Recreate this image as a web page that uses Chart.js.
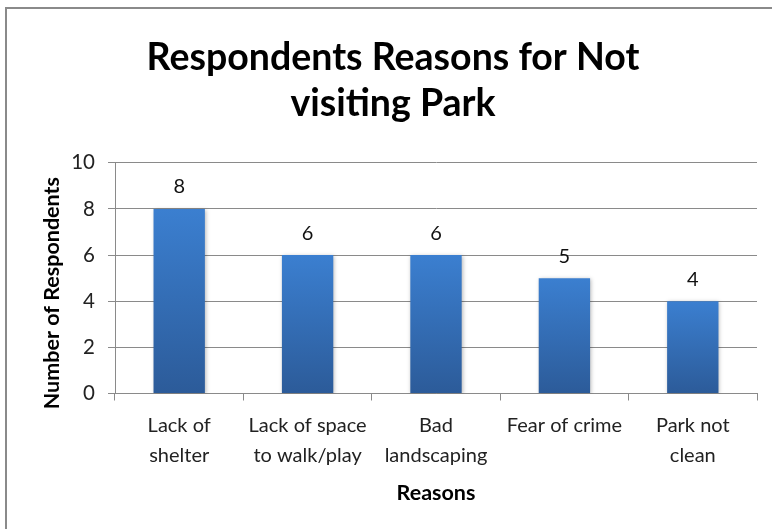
<!DOCTYPE html>
<html>
<head>
<meta charset="utf-8">
<script src="https://cdn.jsdelivr.net/npm/chart.js@4.4.0/dist/chart.umd.min.js"></script>
<style>
  html, body { margin: 0; padding: 0; background: #fff; }
  #wrap { width: 772px; height: 529px; }
</style>
</head>
<body>
<div id="wrap"><canvas id="chart" width="772" height="529"></canvas></div>
<script>
const reasons = [
    ['Lack of', 'shelter'],
    ['Lack of space', 'to walk/play'],
    ['Bad', 'landscaping'],
    ['Fear of crime'],
    ['Park not', 'clean']
];
const respondents = [8, 6, 6, 5, 4];
const yTicks = [0, 2, 4, 6, 8, 10];
const yTitle = 'Number of Respondents';

const FONT = 'Lato, "Open Sans", sans-serif';

// grey frame around the whole chart
const framePlugin = {
    id: 'frame',
    beforeDraw(chart) {
        const ctx = chart.ctx;
        ctx.save();
        ctx.fillStyle = '#fff';
        ctx.fillRect(0, 0, chart.width, chart.height);
        ctx.strokeStyle = '#8a8a8a';
        ctx.lineWidth = 2;
        ctx.strokeRect(6, 8, chart.width + 20, chart.height + 20);
        ctx.restore();
    }
};

// y axis title, sitting a little below the middle of the axis
const yTitlePlugin = {
    id: 'yTitle',
    afterDraw(chart) {
        const ctx = chart.ctx;
        const area = chart.chartArea;
        ctx.save();
        ctx.translate(52, (area.top + area.bottom) / 2 + 15);
        ctx.rotate(-Math.PI / 2);
        ctx.font = 'bold 21.5px ' + FONT;
        ctx.fillStyle = '#000';
        ctx.textAlign = 'center';
        ctx.textBaseline = 'middle';
        ctx.fillText(yTitle, 0, 0);
        ctx.restore();
    }
};

// soft shadow behind the bars
const shadowPlugin = {
    id: 'barShadow',
    beforeDatasetsDraw(chart) {
        const ctx = chart.ctx;
        ctx.save();
        ctx.shadowColor = 'rgba(0,0,0,0.28)';
        ctx.shadowBlur = 4;
        ctx.shadowOffsetX = 1;
        ctx.shadowOffsetY = 1;
    },
    afterDatasetsDraw(chart) {
        chart.ctx.restore();
    }
};

// value written above each bar
const valueLabels = {
    id: 'valueLabels',
    afterDatasetsDraw(chart) {
        const ctx = chart.ctx;
        const meta = chart.getDatasetMeta(0);
        ctx.save();
        ctx.font = '20px ' + FONT;
        ctx.fillStyle = '#111';
        ctx.textAlign = 'center';
        ctx.textBaseline = 'middle';
        meta.data.forEach((bar, i) => {
            ctx.fillText(String(chart.data.datasets[0].data[i]), bar.x, bar.y - 22);
        });
        ctx.restore();
    }
};

function barGradient(context) {
    const chart = context.chart;
    const y = chart.scales.y;
    if (!chart.chartArea || !y) return '#3a78c8';
    const v = context.parsed ? context.parsed.y : context.raw;
    const top = y.getPixelForValue(v);
    const bottom = y.getPixelForValue(0);
    if (!isFinite(top) || !isFinite(bottom) || top === bottom) return '#3a78c8';
    const g = chart.ctx.createLinearGradient(0, top, 0, bottom);
    g.addColorStop(0, '#3b7fd0');
    g.addColorStop(1, '#2c5b99');
    return g;
}

new Chart(document.getElementById('chart'), {
    type: 'bar',
    data: {
        labels: reasons,
        datasets: [{
            data: respondents,
            backgroundColor: barGradient,
            borderWidth: 0,
            barPercentage: 0.8,
            categoryPercentage: 0.5
        }]
    },
    plugins: [framePlugin, shadowPlugin, valueLabels, yTitlePlugin],
    options: {
        responsive: false,
        animation: false,
        layout: { padding: { top: 10, left: 29, right: 15, bottom: 25 } },
        plugins: {
            legend: { display: false },
            tooltip: { enabled: false },
            title: {
                display: true,
                text: ['Respondents Reasons for Not', 'visiting Park'],
                color: '#000',
                font: { family: FONT, size: 37.5, weight: 'bold', lineHeight: 1.25 },
                padding: { top: 24, bottom: 35 }
            }
        },
        scales: {
            x: {
                grid: {
                    offset: true,
                    drawOnChartArea: false,
                    drawTicks: true,
                    tickLength: 7,
                    color: '#8a8a8a'
                },
                border: { color: '#8a8a8a' },
                ticks: {
                    color: '#222',
                    font: { family: FONT, size: 20, lineHeight: 1.5 },
                    maxRotation: 0,
                    autoSkip: false,
                    padding: 10
                },
                title: {
                    display: true,
                    text: 'Reasons',
                    color: '#000',
                    font: { family: FONT, size: 21.5, weight: 'bold', lineHeight: 1.0 },
                    padding: { top: 2, bottom: 0 }
                }
            },
            y: {
                min: 0,
                max: 10,
                afterBuildTicks(scale) {
                    scale.ticks = yTicks.map(v => ({ value: v }));
                },
                afterFit(scale) {
                    scale.width = 86;
                },
                grid: {
                    color: '#8a8a8a',
                    drawTicks: true,
                    tickLength: 7
                },
                border: { color: '#8a8a8a' },
                ticks: {
                    color: '#222',
                    font: { family: FONT, size: 20.5 },
                    padding: 13
                }
            }
        }
    }
});
</script>
</body>
</html>
